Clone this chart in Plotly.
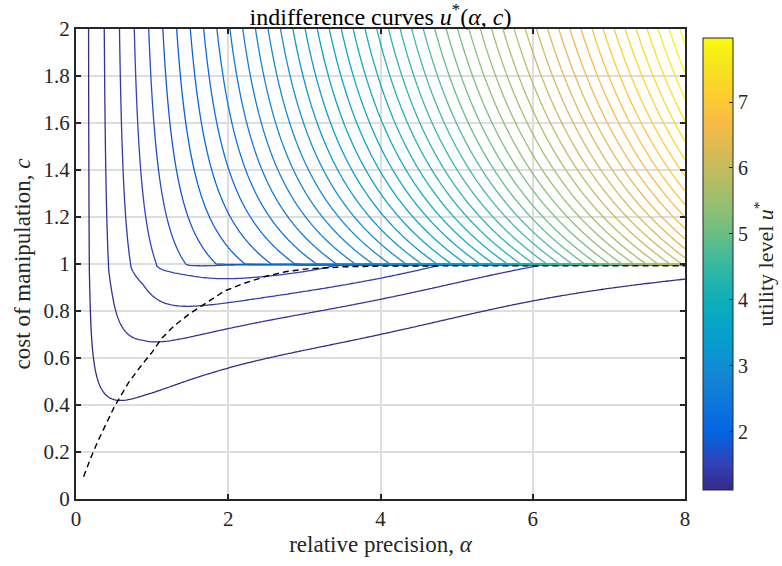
import numpy as np
import plotly.graph_objects as go

# ---- grid on which the utility surface is evaluated ----
alpha = np.round(np.arange(0.05, 8.0001, 0.025), 4)      # relative precision
cost = np.round(np.linspace(0.0, 2.0, 401), 4)           # cost of manipulation

# ---- model parameters ----
u_base = 1.15                        # utility with an uninformative signal
value_curve = [0.955, 0.97, 2.9]     # slope, curvature amplitude, curvature scale
cost_penalty = [4.45, 3.3]           # penalty scale and precision half-point (c >= 1)
pooled_scale = 0.76                  # effective precision once manipulation is possible
pool_onset = 0.04                    # how fast that regime sets in below c = 1
manip_loss = [6.6, 6.2, 0.22, 0.55]  # manipulation term for c < 1
manip_hump = [0.35, 3.8, 1.9]        # extra weight of the term at mid precision
blend_power = 0.85                   # how the two terms are combined
edge_fade = [0.01, 0.8]              # manipulation fades near c = 1 for small alpha

# ---- indifference levels and colour axis ----
level_start = 1.254
level_step = 0.134
level_count = 50
u_min, u_max = 1.12, 7.97
cbar_ticks = [2, 3, 4, 5, 6, 7]

# ---- optimal-precision frontier (dashed) ----
front_alpha = [0.1, 0.2, 0.3, 0.4, 0.5, 0.58, 0.7, 0.85, 1.0, 1.13, 1.3, 1.5,
               1.7, 1.95, 2.2, 2.5, 2.75, 3.0, 3.5, 4.0, 5.0, 6.0, 7.0, 8.0]
front_cost = [0.095, 0.18, 0.255, 0.325, 0.39, 0.435, 0.50, 0.565, 0.625, 0.685,
              0.74, 0.79, 0.833, 0.885, 0.917, 0.948, 0.967, 0.978, 0.988,
              0.991, 0.992, 0.992, 0.992, 0.992]

x_ticks = [0, 2, 4, 6, 8]
y_ticks = [0, 0.2, 0.4, 0.6, 0.8, 1.0, 1.2, 1.4, 1.6, 1.8, 2.0]
y_ticklabels = ["0", "0.2", "0.4", "0.6", "0.8", "1", "1.2", "1.4", "1.6", "1.8", "2"]

# MATLAB-style parula colour map
parula_rgb = [
    (0.2081, 0.1663, 0.5292), (0.1959, 0.2645, 0.7279), (0.0117, 0.3875, 0.8820),
    (0.0498, 0.4586, 0.8641), (0.0793, 0.5200, 0.8312), (0.0343, 0.5966, 0.8199),
    (0.0228, 0.6535, 0.7768), (0.0843, 0.6928, 0.7062), (0.2178, 0.7250, 0.6193),
    (0.3953, 0.7459, 0.5244), (0.5709, 0.7485, 0.4494), (0.7184, 0.7411, 0.3905),
    (0.8507, 0.7299, 0.3360), (0.9739, 0.7314, 0.2666), (0.9880, 0.8066, 0.1794),
    (0.9589, 0.8949, 0.1132), (0.9763, 0.9831, 0.0538),
]
parula = [[i / (len(parula_rgb) - 1),
           "rgb(%d,%d,%d)" % tuple(round(255 * v) for v in rgb)]
          for i, rgb in enumerate(parula_rgb)]


def value_of(x):
    slope, amp, scale = value_curve
    return slope * x - amp * (1.0 - np.exp(-x / scale))


# ---- utility surface u*(alpha, c) ----
A, C = np.meshgrid(alpha, cost)
p0, aw = cost_penalty
weight = A ** 2 / (A ** 2 + aw ** 2)
f_info = value_of(A) - p0 * (1.0 / np.maximum(C, 1.0) - 0.5) * weight

# below c = 1: informative part, moving from the c = 1 value to the pooled one
f_edge = value_of(A) - 0.5 * p0 * weight
onset = 1.0 - np.exp(-np.maximum(1.0 - C, 0.0) / pool_onset)
f_pool = f_edge + np.maximum(value_of(pooled_scale * A) - f_edge, 0.0) * onset

k0, kc, pa, a0 = manip_loss
hb, hc, hw = manip_hump
hump = 1.0 + hb * np.exp(-((A - hc) / hw) ** 2)
fade = 1.0 + edge_fade[0] * np.exp(-(A / edge_fade[1]) ** 2) / np.maximum(1.0 - C, 1e-3) ** 2
f_manip = k0 * np.exp(kc * (C - 1.0)) * A ** pa / (A ** 2 + a0) * hump * fade
q = blend_power
blend = (f_pool ** -q + f_manip ** -q) ** (-1.0 / q)
gain = np.where(C >= 1, f_info, blend)
U = np.round(u_base + gain, 4)

serif = "Liberation Serif, DejaVu Serif, serif"
ink = "#262626"

fig = go.Figure()
fig.add_trace(go.Contour(
    x=alpha, y=cost, z=U,
    contours=dict(coloring="lines", start=level_start,
                  end=level_start + level_step * (level_count - 1) + 1e-6,
                  size=level_step),
    line=dict(width=1.3, smoothing=0),
    colorscale=parula, zmin=u_min, zmax=u_max, showscale=False,
    hoverinfo="skip",
))
fig.add_trace(go.Scatter(
    x=front_alpha, y=front_cost, mode="lines",
    line=dict(color="black", width=1.4, dash="6px,4px"),
    showlegend=False, hoverinfo="skip",
))
fig.add_trace(go.Scatter(
    x=[None], y=[None], mode="markers",
    marker=dict(color=[u_min], colorscale=parula, cmin=u_min, cmax=u_max,
                showscale=True,
                colorbar=dict(
                    x=1.0296, xanchor="left", xpad=0, y=0.5, yanchor="middle",
                    thickness=30, len=472, lenmode="pixels",
                    outlinecolor=ink, outlinewidth=1,
                    ticks="inside", ticklen=4, tickcolor=ink,
                    tickvals=cbar_ticks,
                    tickfont=dict(family=serif, size=20, color=ink),
                    title=dict(text="utility level <i>u</i><sup>*</sup>", side="right",
                               font=dict(family=serif, size=22, color=ink)),
                )),
    showlegend=False, hoverinfo="skip",
))

axis_common = dict(
    showgrid=True, gridcolor="#dedede", gridwidth=1.8, zeroline=False,
    showline=True, linecolor=ink, linewidth=2, mirror="ticks",
    ticks="inside", ticklen=5, tickwidth=2, tickcolor=ink,
    tickfont=dict(family=serif, size=21, color=ink),
)
fig.update_layout(
    width=782, height=566,
    margin=dict(l=76, r=97, t=29, b=67, autoexpand=False),
    paper_bgcolor="white", plot_bgcolor="white",
    title=dict(text="indifference curves <i>u</i><sup>*</sup>(<i>α</i>, <i>c</i>)",
               x=0.5, xref="paper", xanchor="center",
               y=0.97, yref="container", yanchor="middle",
               font=dict(family=serif, size=24, color="black")),
    xaxis=dict(range=[0, 8], tickvals=x_ticks,
               title=dict(text="relative precision, <i>α</i>", standoff=6,
                          font=dict(family=serif, size=23, color=ink)),
               **axis_common),
    yaxis=dict(range=[0, 2], tickvals=y_ticks, ticktext=y_ticklabels,
               title=dict(text="cost of manipulation, <i>c</i>", standoff=6,
                          font=dict(family=serif, size=23, color=ink)),
               **axis_common),
    showlegend=False,
)

fig.write_html("out.html")
